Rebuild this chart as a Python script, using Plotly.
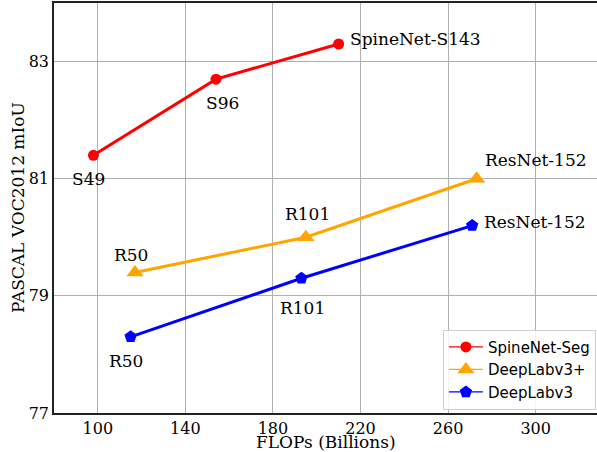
import plotly.graph_objects as go

# Data
spine_x = [98, 154, 210]
spine_y = [81.4, 82.7, 83.3]
spine_lbl = ["S49", "S96", "SpineNet-S143"]

dl3p_x = [117, 195, 273]
dl3p_y = [79.4, 80.0, 81.0]
dl3p_lbl = ["R50", "R101", "ResNet-152"]

dl3_x = [115, 193, 271]
dl3_y = [78.3, 79.3, 80.2]
dl3_lbl = ["R50", "R101", "ResNet-152"]

x_ticks = [100, 140, 180, 220, 260, 300]
y_ticks = [77, 79, 81, 83]

SERIF = "DejaVu Serif"
SANS = "DejaVu Sans"

series = [
    ("SpineNet-Seg", spine_x, spine_y, "#ff0000", "circle", 11),
    ("DeepLabv3+", dl3p_x, dl3p_y, "#ffa500", "triangle-up", 15),
    ("DeepLabv3", dl3_x, dl3_y, "#0000ff", "pentagon", 13),
]

fig = go.Figure()
for name, xs, ys, col, sym, sz in series:
    fig.add_trace(go.Scatter(x=xs, y=ys, name=name, mode="lines+markers", showlegend=False,
                             line=dict(color=col, width=3),
                             marker=dict(symbol=sym, size=sz, color=col)))
# legend entries with thinner line, as in the reference
for name, xs, ys, col, sym, sz in series:
    fig.add_trace(go.Scatter(x=[None], y=[None], name=name, mode="lines+markers", showlegend=True,
                             line=dict(color=col, width=1.3),
                             marker=dict(symbol=sym, size=sz, color=col)))

# label offsets (px): (xshift, yshift, xanchor)
spine_off = [(-5, -24, "center"), (6, -24, "center"), (9, 5, "left")]
dl3p_off = [(-4, 17, "center"), (2, 23, "center"), (6, 19, "left")]
dl3_off = [(-5, -24, "center"), (1, -30, "center"), (10, 4, "left")]

annos = []
for xs, ys, lbls, offs in [(spine_x, spine_y, spine_lbl, spine_off),
                           (dl3p_x, dl3p_y, dl3p_lbl, dl3p_off),
                           (dl3_x, dl3_y, dl3_lbl, dl3_off)]:
    for x, y, t, (dx, dy, xa) in zip(xs, ys, lbls, offs):
        annos.append(dict(x=x, y=y, xref="x", yref="y", text=t, showarrow=False,
                          xshift=dx, yshift=dy, xanchor=xa, yanchor="middle",
                          font=dict(family=SERIF, size=17, color="#000")))

# axis titles
annos.append(dict(x=0.5, y=0, xref="paper", yref="paper", text="FLOPs (Billions)", showarrow=False,
                  xanchor="center", yanchor="middle", yshift=-29, borderpad=0,
                  font=dict(family=SERIF, size=17, color="#000")))
annos.append(dict(x=0, y=0.5, xref="paper", yref="paper", text="PASCAL VOC2012 mIoU", showarrow=False,
                  xanchor="center", yanchor="middle", xshift=-36, textangle=-90,
                  font=dict(family=SERIF, size=17, color="#000")))

fig.update_layout(
    width=597, height=452,
    margin=dict(l=54, r=0, t=3, b=39, autoexpand=False),
    paper_bgcolor="white", plot_bgcolor="white",
    annotations=annos,
    showlegend=True,
    legend=dict(x=0.998, y=0.008, xanchor="right", yanchor="bottom",
                bgcolor="rgba(255,255,255,0.85)", bordercolor="#d0d0d0", borderwidth=1,
                font=dict(family=SANS, size=15, color="#000"),
                tracegroupgap=0, itemwidth=34),
    xaxis=dict(range=[80, 328], tickvals=x_ticks, showgrid=True, gridcolor="#b0b0b0", gridwidth=1,
               showline=True, mirror=True, linecolor="#222", linewidth=1.5, zeroline=False,
               ticks="", ticklabelstandoff=0, tickfont=dict(family=SERIF, size=16, color="#000"),
               automargin=False),
    yaxis=dict(range=[77, 84], tickvals=y_ticks, showgrid=True, gridcolor="#b0b0b0", gridwidth=1,
               showline=True, mirror=False, linecolor="#222", linewidth=1.5, zeroline=False,
               ticks="", tickfont=dict(family=SERIF, size=16, color="#000"),
               automargin=False),
)

fig.write_html("out.html", config={"displayModeBar": False},
               post_script="document.body.style.margin='0';document.body.style.padding='0';")
